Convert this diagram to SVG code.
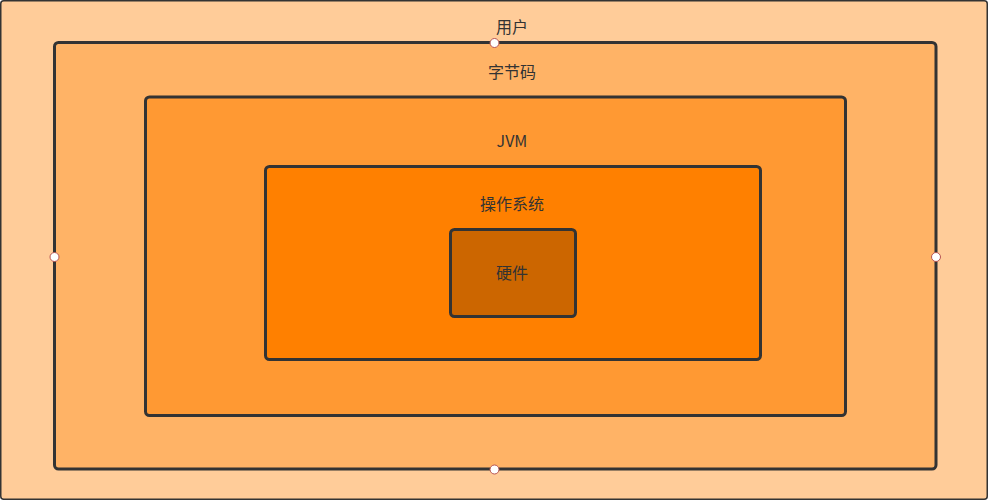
<svg xmlns="http://www.w3.org/2000/svg" width="988" height="500" viewBox="0 0 988 500">
<style>
.box{stroke:#333333;stroke-width:3}
.lbl{font-family:"Noto Sans CJK SC","Liberation Sans",sans-serif;font-size:16px;fill:#333333;text-anchor:middle}
.h{fill:#ffffff;stroke:#b85450;stroke-width:1}
</style>
<g id="user">
<rect x="0.75" y="0.75" width="986.5" height="498.5" rx="3" fill="#FFCC99" stroke="#333333" stroke-width="1.5"/>
<text class="lbl" x="512" y="33">用户</text>
</g>
<g id="bytecode">
<rect class="box" x="54.5" y="42.5" width="881.5" height="426.5" rx="4" fill="#FFB366"/>
<text class="lbl" x="512" y="78">字节码</text>
</g>
<g id="jvm">
<rect class="box" x="145.5" y="97" width="700" height="318.5" rx="4" fill="#FF9933"/>
<text class="lbl" x="512" y="147">JVM</text>
</g>
<g id="os">
<rect class="box" x="265.5" y="166.5" width="495" height="193" rx="4" fill="#FF8000"/>
<text class="lbl" x="512" y="210">操作系统</text>
</g>
<g id="hardware">
<rect class="box" x="450.5" y="229.5" width="125" height="87" rx="4" fill="#CC6600"/>
<text class="lbl" x="512" y="279">硬件</text>
</g>
<g id="connectors">
<circle class="h" cx="494.5" cy="43" r="4.5"/>
<circle class="h" cx="54.5" cy="257" r="4.5"/>
<circle class="h" cx="936" cy="257" r="4.5"/>
<circle class="h" cx="494.5" cy="469.5" r="4.5"/>
</g>
</svg>
